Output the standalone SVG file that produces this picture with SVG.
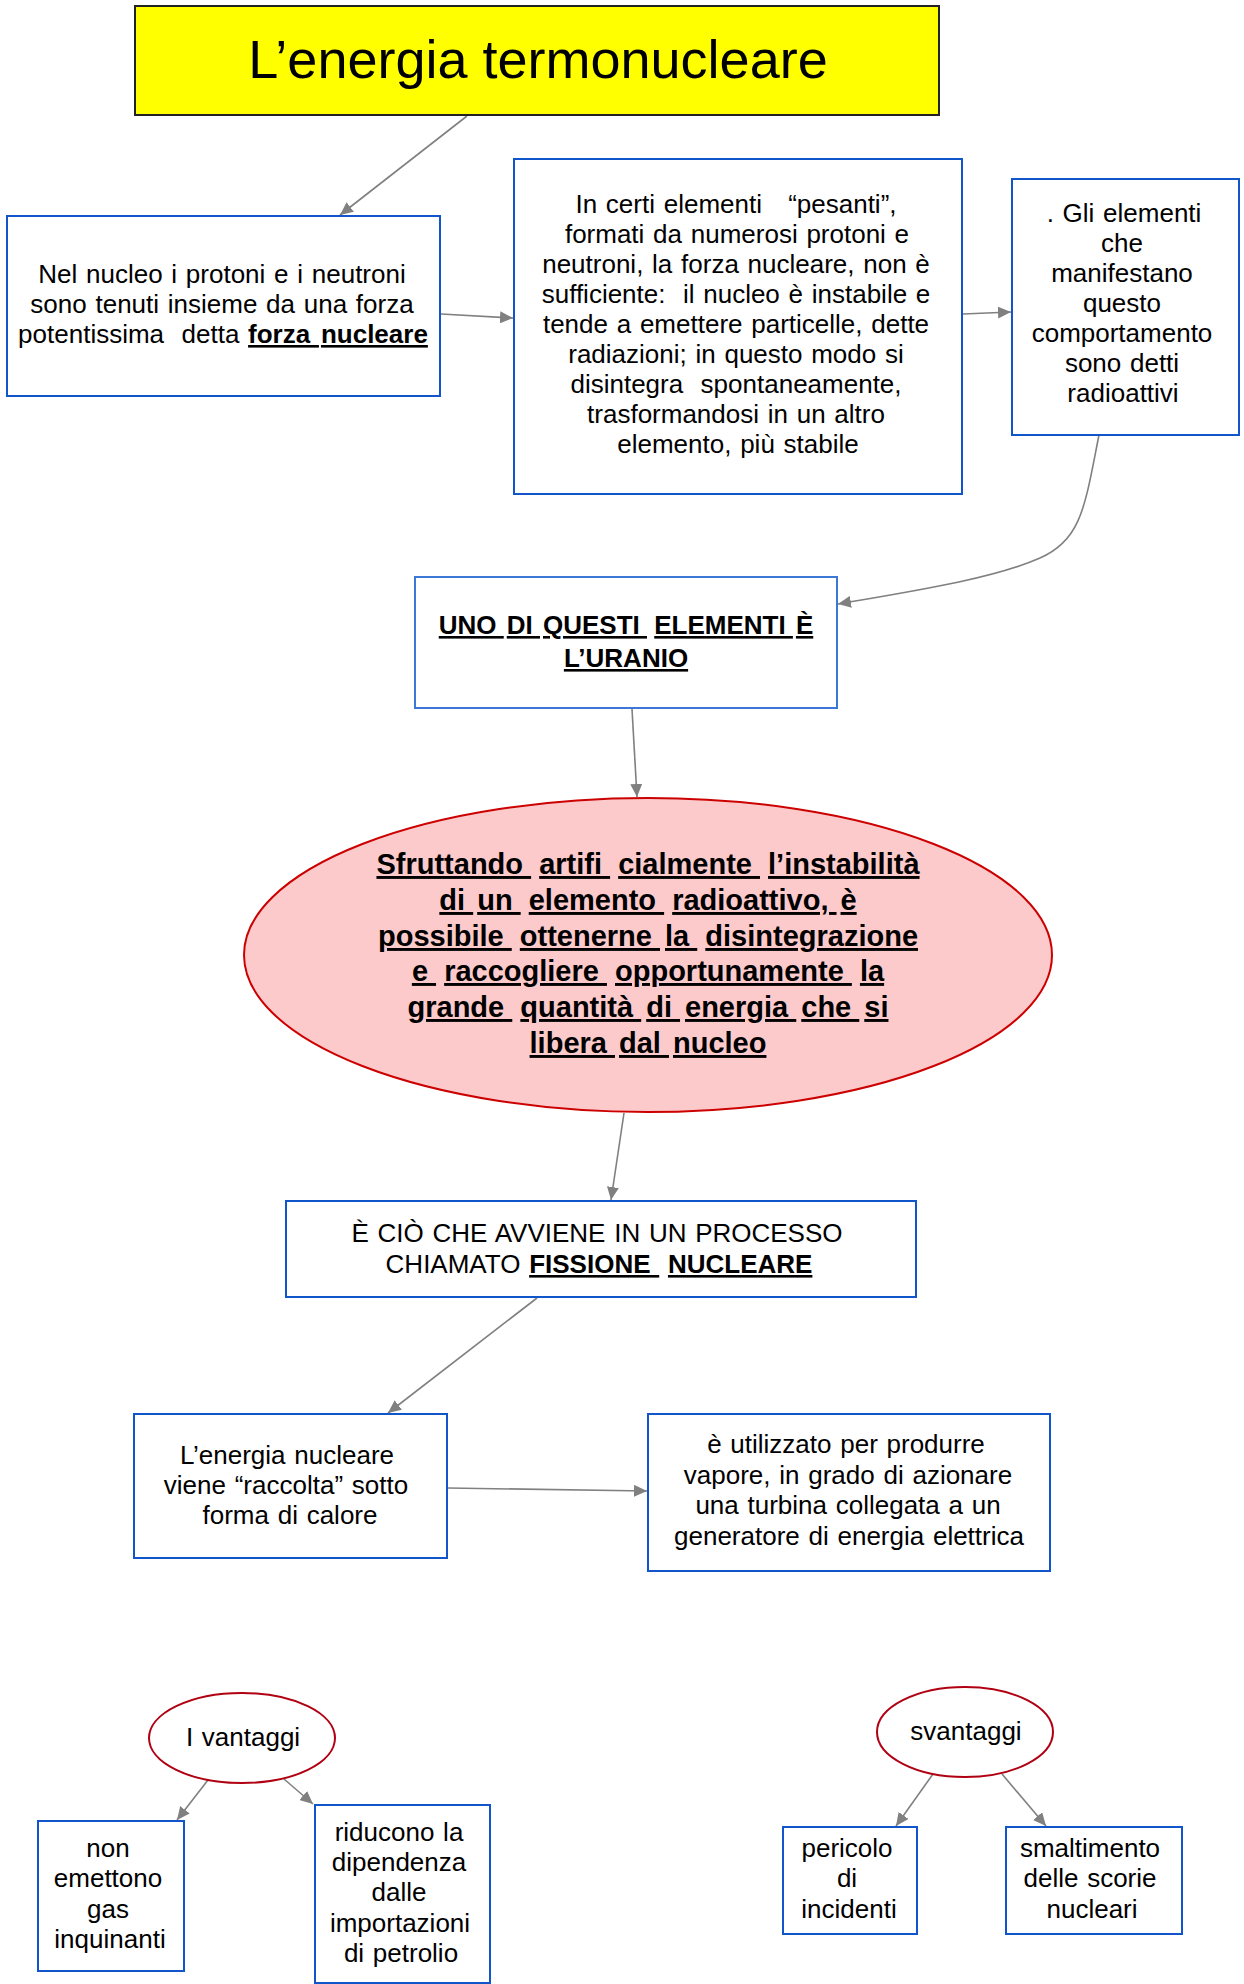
<svg xmlns="http://www.w3.org/2000/svg" width="1244" height="1984" viewBox="0 0 1244 1984">
<style>
text{font-family:"Liberation Sans",Arial,sans-serif;font-size:26px;fill:#000;text-anchor:middle;word-spacing:1.5px}
.box{fill:#fff;stroke:#1155cc;stroke-width:2}
.box2{fill:#fff;stroke:#3c78d8;stroke-width:2}
.b{font-weight:bold}
.u{text-decoration:underline}
.e{font-size:29px;font-weight:bold;word-spacing:0}
.conn{fill:none;stroke:#808080;stroke-width:1.6;marker-end:url(#ah)}
.ell{fill:#fff;stroke:#b00012;stroke-width:2}
</style>
<defs>
<marker id="ah" markerUnits="userSpaceOnUse" markerWidth="14" markerHeight="12" refX="13" refY="6" orient="auto"><path d="M0,0 L13,6 L0,12 z" fill="#808080"/></marker>
</defs>
<rect width="1244" height="1984" fill="#fff"/>
<g id="connectors">
<line class="conn" x1="467" y1="116" x2="340" y2="215"/>
<line class="conn" x1="441" y1="314" x2="513" y2="318"/>
<line class="conn" x1="963" y1="314" x2="1011" y2="312"/>
<path class="conn" d="M1099,435 C1085,505 1082,540 1040,558 C995,578 920,590 838,604"/>
<line class="conn" x1="632" y1="709" x2="637" y2="797"/>
<line class="conn" x1="624" y1="1113" x2="611" y2="1200"/>
<line class="conn" x1="537" y1="1298" x2="388" y2="1413"/>
<line class="conn" x1="448" y1="1488" x2="647" y2="1491"/>
<line class="conn" x1="208" y1="1780" x2="177" y2="1820"/>
<line class="conn" x1="284" y1="1779" x2="313" y2="1804"/>
<line class="conn" x1="933" y1="1774" x2="896" y2="1826"/>
<line class="conn" x1="1002" y1="1774" x2="1046" y2="1826"/>
</g>
<g id="title">
<rect x="135" y="6" width="804" height="109" fill="#ffff00" stroke="#222" stroke-width="2"/>
<text x="538" y="78" style="font-size:54px;word-spacing:0">L’energia termonucleare</text>
</g>
<g id="n1">
<rect class="box" x="7" y="216" width="433" height="180"/>
<text x="222" y="283">Nel nucleo i protoni e i neutroni</text>
<text x="222" y="313">sono tenuti insieme da una forza</text>
<text x="223" y="343">potentissima&#160; detta <tspan class="b u">forza </tspan><tspan class="b u" dx="2">nucleare</tspan></text>
</g>
<g id="n2">
<rect class="box" x="514" y="159" width="448" height="335"/>
<text x="736" y="213">In certi elementi&#160;&#160; “pesanti”,</text>
<text x="737" y="243">formati da numerosi protoni e</text>
<text x="736" y="273">neutroni, la forza nucleare, non è</text>
<text x="736" y="303">sufficiente:&#160; il nucleo è instabile e</text>
<text x="736" y="333">tende a emettere particelle, dette</text>
<text x="736" y="363">radiazioni; in questo modo si</text>
<text x="736" y="393">disintegra&#160; spontaneamente,</text>
<text x="736" y="423">trasformandosi in un altro</text>
<text x="738" y="453">elemento, più stabile</text>
</g>
<g id="n3">
<rect class="box" x="1012" y="179" width="227" height="256"/>
<text x="1124" y="222">. Gli elementi</text>
<text x="1122" y="252">che</text>
<text x="1122" y="282">manifestano</text>
<text x="1122" y="312">questo</text>
<text x="1122" y="342">comportamento</text>
<text x="1122" y="372">sono detti</text>
<text x="1123" y="402">radioattivi</text>
</g>
<g id="n4">
<rect class="box2" x="415" y="577" width="422" height="131"/>
<text class="b" x="626" y="634" style="word-spacing:0"><tspan class="u">UNO </tspan><tspan class="u" dx="3">DI </tspan><tspan class="u" dx="3">QUESTI </tspan>&#160;<tspan class="u">ELEMENTI </tspan><tspan class="u" dx="3">È </tspan></text>
<text class="b" x="626" y="667"><tspan class="u">L’URANIO</tspan></text>
</g>
<g id="n5">
<ellipse cx="648" cy="955" rx="404" ry="157" fill="#fccaca" stroke="#cc0000" stroke-width="2"/>
<text class="e" x="648" y="874"><tspan class="u">Sfruttando </tspan>&#160;<tspan class="u">artifi </tspan>&#160;<tspan class="u">cialmente </tspan>&#160;<tspan class="u">l’instabilità </tspan></text>
<text class="e" x="648" y="910"><tspan class="u">di </tspan><tspan class="u" dx="4">un </tspan>&#160;<tspan class="u">elemento </tspan>&#160;<tspan class="u">radioattivo, </tspan><tspan class="u" dx="4">è </tspan></text>
<text class="e" x="648" y="946"><tspan class="u">possibile </tspan>&#160;<tspan class="u">ottenerne </tspan><tspan class="u" dx="5">la </tspan>&#160;<tspan class="u">disintegrazione </tspan></text>
<text class="e" x="648" y="981"><tspan class="u">e </tspan>&#160;<tspan class="u">raccogliere </tspan>&#160;<tspan class="u">opportunamente </tspan>&#160;<tspan class="u">la </tspan></text>
<text class="e" x="648" y="1017"><tspan class="u">grande </tspan>&#160;<tspan class="u">quantità </tspan><tspan class="u" dx="5">di </tspan><tspan class="u" dx="5">energia </tspan><tspan class="u" dx="5">che </tspan><tspan class="u" dx="5">si </tspan></text>
<text class="e" x="648" y="1053"><tspan class="u">libera </tspan><tspan class="u" dx="4">dal </tspan><tspan class="u" dx="4">nucleo</tspan></text>
</g>
<g id="n6">
<rect class="box" x="286" y="1201" width="630" height="96"/>
<text x="597" y="1242">È CIÒ CHE AVVIENE IN UN PROCESSO</text>
<text x="599" y="1273">CHIAMATO <tspan class="b u">FISSIONE </tspan>&#160;<tspan class="b u">NUCLEARE</tspan></text>
</g>
<g id="n7">
<rect class="box" x="134" y="1414" width="313" height="144"/>
<text x="287" y="1464">L’energia nucleare</text>
<text x="286" y="1494">viene “raccolta” sotto</text>
<text x="290" y="1524">forma di calore</text>
</g>
<g id="n8">
<rect class="box" x="648" y="1414" width="402" height="157"/>
<text x="846" y="1453">è utilizzato per produrre</text>
<text x="848" y="1484">vapore, in grado di azionare</text>
<text x="848" y="1514">una turbina collegata a un</text>
<text x="849" y="1545">generatore di energia elettrica</text>
</g>
<g id="n9">
<ellipse class="ell" cx="242" cy="1738" rx="93" ry="45"/>
<text x="243" y="1746">I vantaggi</text>
</g>
<g id="n10">
<ellipse class="ell" cx="965" cy="1732" rx="88" ry="45"/>
<text x="966" y="1740">svantaggi</text>
</g>
<g id="n11">
<rect class="box" x="38" y="1821" width="146" height="150"/>
<text x="108" y="1857">non</text>
<text x="108" y="1887">emettono</text>
<text x="108" y="1918">gas</text>
<text x="110" y="1948">inquinanti</text>
</g>
<g id="n12">
<rect class="box" x="315" y="1805" width="175" height="178"/>
<text x="399" y="1841">riducono la</text>
<text x="399" y="1871">dipendenza</text>
<text x="399" y="1901">dalle</text>
<text x="400" y="1932">importazioni</text>
<text x="401" y="1962">di petrolio</text>
</g>
<g id="n13">
<rect class="box" x="783" y="1827" width="134" height="107"/>
<text x="847" y="1857">pericolo</text>
<text x="847" y="1887">di</text>
<text x="849" y="1918">incidenti</text>
</g>
<g id="n14">
<rect class="box" x="1006" y="1827" width="176" height="107"/>
<text x="1090" y="1857">smaltimento</text>
<text x="1090" y="1887">delle scorie</text>
<text x="1092" y="1918">nucleari</text>
</g>
</svg>
